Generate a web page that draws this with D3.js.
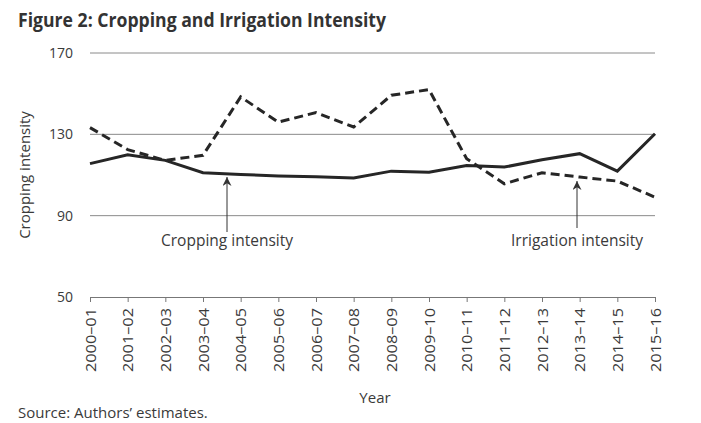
<!DOCTYPE html>
<html>
<head>
<meta charset="utf-8">
<script src="https://cdn.jsdelivr.net/npm/d3@7"></script>
<style>
  body { margin: 0; background: #fff; }
  text { font-family: "Open Sans", "Noto Sans", sans-serif; fill: #3a3a3a; }
</style>
</head>
<body>
<div id="chart"></div>
<script>
// Data
const years = ["2000–01", "2001–02", "2002–03", "2003–04", "2004–05", "2005–06", "2006–07", "2007–08",
  "2008–09", "2009–10", "2010–11", "2011–12", "2012–13", "2013–14", "2014–15", "2015–16"];
const cropping = [115.6, 120, 117.2, 111.1, 110.3, 109.5, 109.1, 108.5, 111.9, 111.4, 114.7, 113.9, 117.5, 120.5, 111.9, 130.3];
const irrigation = [133.3, 122.5, 117.2, 119.7, 148.4, 136, 140.7, 133.6, 149.2, 152, 118, 105.7, 111.1, 109, 107, 99.1];
const yTicks = [50, 90, 130, 170];

const W = 701, H = 423;
const x0 = 90, x1 = 655, yTop = 53, yBot = 297;

const svg = d3.select("#chart").append("svg")
  .attr("width", W)
  .attr("height", H);

const x = d3.scalePoint().domain(years).range([x0, x1]);
const y = d3.scaleLinear().domain([50, 170]).range([yBot, yTop]);

// Title
svg.append("text")
  .attr("x", 18).attr("y", 27)
  .style("font-weight", "bold")
  .style("font-size", "20px")
  .style("fill", "#333")
  .attr("textLength", 368)
  .attr("lengthAdjust", "spacingAndGlyphs")
  .text("Figure 2: Cropping and Irrigation Intensity");

// Gridlines
svg.selectAll(".grid")
  .data(yTicks.filter(d => d > 50))
  .enter().append("line")
  .attr("x1", x0).attr("x2", x1)
  .attr("y1", d => y(d)).attr("y2", d => y(d))
  .attr("stroke", "#8a8a8a").attr("stroke-width", 1);

// Y tick labels
svg.selectAll(".ylab")
  .data(yTicks)
  .enter().append("text")
  .attr("x", 73).attr("y", d => y(d) + 5)
  .style("text-anchor", "end")
  .style("font-size", "14px")
  .text(d => d);

// X axis
const xAxis = svg.append("g")
  .attr("transform", `translate(0,${yBot})`)
  .call(d3.axisBottom(x).tickSize(5).tickSizeOuter(0));
xAxis.select(".domain").attr("stroke", "#777");
xAxis.selectAll(".tick line").attr("stroke", "#777");
xAxis.selectAll(".tick text")
  .attr("transform", "rotate(-90)")
  .attr("x", -11).attr("y", 0).attr("dy", "0.35em")
  .attr("textLength", 64)
  .attr("lengthAdjust", "spacingAndGlyphs")
  .style("text-anchor", "end")
  .style("font-family", "'Open Sans', sans-serif")
  .style("font-size", "15px")
  .style("fill", "#3a3a3a");

// Lines
const line = d3.line().x((d, i) => x(years[i])).y(d => y(d));
svg.append("path")
  .datum(cropping)
  .attr("d", line)
  .attr("fill", "none").attr("stroke", "#262626").attr("stroke-width", 3);
svg.append("path")
  .datum(irrigation)
  .attr("d", line)
  .attr("fill", "none").attr("stroke", "#262626").attr("stroke-width", 3)
  .attr("stroke-dasharray", "9,5");

// Annotations
svg.append("defs").append("marker")
  .attr("id", "arrow")
  .attr("viewBox", "0 0 10 10")
  .attr("refX", 10).attr("refY", 5)
  .attr("markerWidth", 9).attr("markerHeight", 9)
  .attr("markerUnits", "userSpaceOnUse")
  .attr("orient", "auto")
  .append("path").attr("d", "M0,0 L10,5 L0,10 L3,5 Z").attr("fill", "#333");

const notes = [
  { label: "Cropping intensity", cx: 227, y1: 232, y2: 177 },
  { label: "Irrigation intensity", cx: 577, y1: 228, y2: 181 }
];
notes.forEach(n => {
  svg.append("line")
    .attr("x1", n.cx).attr("x2", n.cx)
    .attr("y1", n.y1).attr("y2", n.y2)
    .attr("stroke", "#333").attr("stroke-width", 1)
    .attr("marker-end", "url(#arrow)");
  svg.append("text")
    .attr("x", n.cx).attr("y", 246)
    .style("text-anchor", "middle")
    .style("font-size", "15.5px")
    .text(n.label);
});

// Axis titles
svg.append("text")
  .attr("transform", "translate(30,175) rotate(-90)")
  .style("text-anchor", "middle")
  .style("font-size", "15px")
  .text("Cropping intensity");

svg.append("text")
  .attr("x", 375).attr("y", 403)
  .style("text-anchor", "middle")
  .style("font-size", "15px")
  .text("Year");

svg.append("text")
  .attr("x", 18).attr("y", 418)
  .style("font-size", "15px")
  .text("Source: Authors’ estimates.");
</script>
</body>
</html>
